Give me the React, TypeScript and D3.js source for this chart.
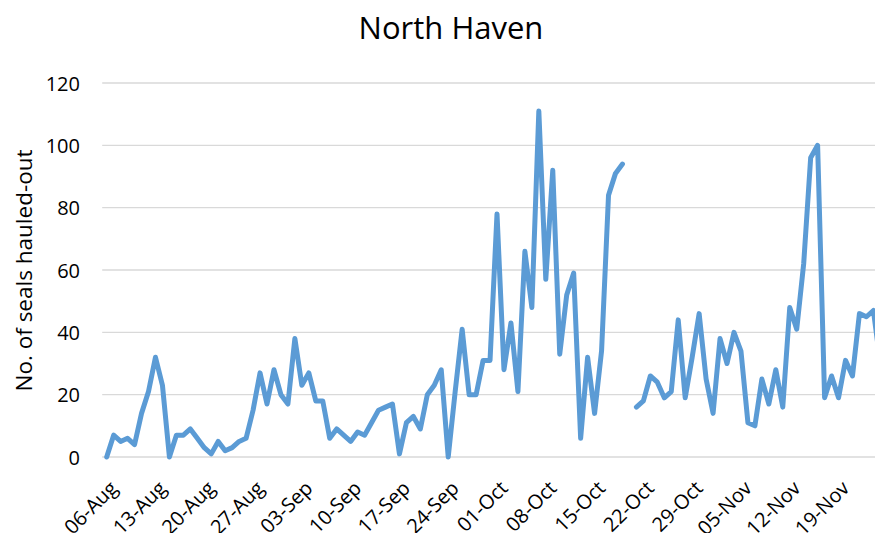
import React from "react";
import * as d3 from "d3";

const title = "North Haven";
const yAxisTitle = "No. of seals hauled-out";
const yTicks = [0, 20, 40, 60, 80, 100, 120];
const tickLabels = [
  "06-Aug", "13-Aug", "20-Aug", "27-Aug", "03-Sep", "10-Sep", "17-Sep", "24-Sep",
  "01-Oct", "08-Oct", "15-Oct", "22-Oct", "29-Oct", "05-Nov", "12-Nov", "19-Nov",
];
const tickStepDays = 7;
// daily counts starting 06-Aug (null = no observation)
const seals: (number | null)[] = [
  0, 7, 5, 6, 4, 14, 21, 32, 23, 0,
  7, 7, 9, 6, 3, 1, 5, 2, 3, 5,
  6, 15, 27, 17, 28, 20, 17, 38, 23, 27,
  18, 18, 6, 9, 7, 5, 8, 7, 11, 15,
  16, 17, 1, 11, 13, 9, 20, 23, 28, 0,
  21, 41, 20, 20, 31, 31, 78, 28, 43, 21,
  66, 48, 111, 57, 92, 33, 52, 59, 6, 32,
  14, 34, 84, 91, 94, null, 16, 18, 26, 24,
  19, 21, 44, 19, 32, 46, 25, 14, 38, 30,
  40, 34, 11, 10, 25, 17, 28, 16, 48, 41,
  62, 96, 100, 19, 26, 19, 31, 26, 46, 45,
  47, 30,
];

const W = 875;
const H = 533;
const FONT = "'Open Sans', 'Liberation Sans', sans-serif";

export default function App() {
  const x = d3
    .scaleLinear()
    .domain([-0.5, seals.length - 0.5])
    .range([103.2, 103.2 + seals.length * 6.97]);
  const y = d3.scaleLinear().domain([0, 120]).range([457, 83]);

  const line = d3
    .line<number | null>()
    .defined((d) => d !== null)
    .x((_, i) => x(i))
    .y((d) => y(d as number))
    .curve(d3.curveLinear);

  const [x0, x1] = x.range();

  return (
    <svg
      width={W}
      height={H}
      style={{ position: "absolute", left: 0, top: 0, background: "#fff", overflow: "hidden" }}
    >
      <rect x={0} y={0} width={W} height={H} fill="#fff" />
      <text
        x={451}
        y={39}
        textAnchor="middle"
        fontFamily={FONT}
        fontSize={31}
        fill="#000"
      >
        {title}
      </text>
      {yTicks.map((t) => (
        <g key={t}>
          <line
            x1={x0 - 1}
            x2={x1}
            y1={y(t)}
            y2={y(t)}
            stroke="#d9d9d9"
            strokeWidth={1.3}
          />
          <text
            x={80}
            y={y(t)}
            textAnchor="end"
            dominantBaseline="central"
            fontFamily={FONT}
            fontSize={20}
            fill="#000"
          >
            {t}
          </text>
        </g>
      ))}
      <text
        transform={`translate(32, 270.5) rotate(-90)`}
        textAnchor="middle"
        fontFamily={FONT}
        fontSize={22.5}
        fill="#000"
      >
        {yAxisTitle}
      </text>
      {tickLabels.map((lab, k) => {
        const tx = x(k * tickStepDays);
        return (
          <text
            key={lab}
            transform={`translate(${tx + 12}, 489.5) rotate(-45)`}
            textAnchor="end"
            fontFamily={FONT}
            fontSize={20}
            fill="#000"
          >
            {lab}
          </text>
        );
      })}
      <path
        d={line(seals) || ""}
        fill="none"
        stroke="#5b9bd5"
        strokeWidth={5}
        strokeLinejoin="round"
        strokeLinecap="round"
      />
    </svg>
  );
}
